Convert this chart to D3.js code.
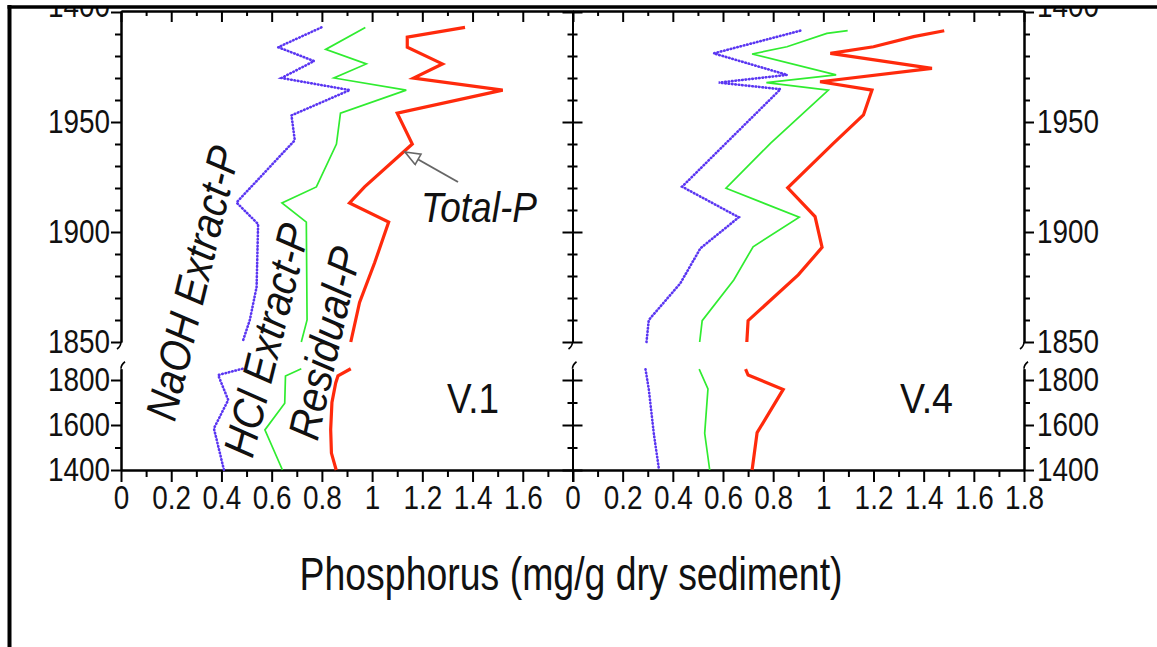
<!DOCTYPE html>
<html><head><meta charset="utf-8">
<script src="https://cdn.jsdelivr.net/npm/d3@7"></script>
<style>
body{margin:0;background:#fff;}
svg{display:block;}
text{font-family:"Liberation Sans Narrow","Arial Narrow","Liberation Sans",Arial,sans-serif;fill:#111;}
</style></head><body>
<svg id="c" width="1157" height="647"></svg>
<script>
// ---------- DATA ----------
const xMajorTicks = [0,0.2,0.4,0.6,0.8,1,1.2,1.4,1.6,1.8];
const xMinorTicks = [0.1,0.3,0.5,0.7,0.9,1.1,1.3,1.5,1.7];
const yUpperMajor = [1850,1900,1950,2000];
const yUpperMajorLabels = ["1850","1900","1950","1400"];
const yUpperMinor = [1860,1870,1880,1890,1910,1920,1930,1940,1960,1970,1980,1990];
const yLowerMajor = [1400,1600,1800];
const yLowerMinor = [1500,1700];

// V.1 core
const v1TotalUpYears = [1993,1988.6,1984,1976.4,1970,1964.5,1954,1940,1920.5,1913.2,1904.5,1886,1868,1850];
const v1TotalUpP     = [1.37,1.14,1.14,1.28,1.165,1.52,1.10,1.16,0.97,0.91,1.066,1.01,0.95,0.915];
const v1TotalLowYears = [1850,1818,1787,1700,1580,1475,1400];
const v1TotalLowP     = [0.915,0.864,0.855,0.84,0.835,0.838,0.857];
const v1HClUpYears = [1993,1983,1976.4,1970,1964.5,1954,1940,1920.5,1913.2,1904.5,1860,1850];
const v1HClUpP     = [0.973,0.815,0.977,0.848,1.136,0.874,0.858,0.778,0.641,0.738,0.741,0.718];
const v1HClLowYears = [1850,1818,1697,1578,1400];
const v1HClLowP     = [0.718,0.655,0.652,0.573,0.643];
const v1NaOHUpYears = [1993,1984,1977.7,1970,1964.5,1953,1941.7,1913.4,1903.6,1875,1860,1850];
const v1NaOHUpP     = [0.798,0.626,0.769,0.639,0.911,0.679,0.692,0.46,0.546,0.54,0.513,0.484];
const v1NaOHLowYears = [1850,1822,1711,1585,1400];
const v1NaOHLowP     = [0.484,0.387,0.427,0.37,0.41];

// V.4 core
const v4TotalUpYears = [1991.5,1988.8,1984.2,1981.2,1974.4,1968.3,1964.5,1953.2,1940.3,1920.1,1907,1893,1880.5,1859.7,1850];
const v4TotalUpP     = [1.482,1.36,1.2,1.028,1.433,0.987,1.194,1.16,1.04,0.858,0.967,0.995,0.9,0.70,0.695];
const v4TotalLowYears = [1848,1822,1758,1566,1400];
const v4TotalLowP     = [0.69,0.70,0.84,0.736,0.716];
const v4HClUpYears = [1991.5,1990.3,1984.2,1980.9,1971.4,1967.9,1964.5,1940.3,1919.9,1906.7,1893.3,1878.2,1859.7,1850];
const v4HClUpP     = [1.097,1.014,0.855,0.716,1.051,0.773,1.02,0.789,0.612,0.904,0.72,0.643,0.517,0.507];
const v4HClLowYears = [1848,1760,1563,1400];
const v4HClLowP     = [0.505,0.54,0.527,0.547];
const v4NaOHUpYears = [1991.5,1981.2,1971.4,1967.9,1964.9,1920.6,1906.7,1892.6,1876.7,1860,1850];
const v4NaOHUpP     = [0.908,0.563,0.856,0.583,0.829,0.437,0.663,0.51,0.43,0.304,0.295];
const v4NaOHLowYears = [1848,1760,1563,1400];
const v4NaOHLowP     = [0.291,0.304,0.324,0.345];

// ---------- LAYOUT ----------
const svg = d3.select('#c');
const defs = svg.append('defs');
defs.append('clipPath').attr('id','clipAll').append('rect')
  .attr('x',10).attr('y',8).attr('width',1157).attr('height',647);
defs.append('marker').attr('id','arrowHead').attr('markerUnits','userSpaceOnUse')
  .attr('markerWidth',20).attr('markerHeight',16).attr('refX',17).attr('refY',7)
  .attr('orient','auto')
  .append('path').attr('d','M2,1 L17,7 L2,13 Z')
  .attr('fill','#fff').attr('stroke','#666').attr('stroke-width',1.6);

const root = svg.append('g').attr('clip-path','url(#clipAll)');

const xL = d3.scaleLinear([0,1.8],[121,573]);
const xR = d3.scaleLinear([0,1.8],[572.5,1024]);
const yU = d3.scaleLinear([1850,2000],[342,12]);
const yD = d3.scaleLinear([1400,1850],[470,368.75]);
const fmt = d3.format('~g');
const FS = 34;

function styleAxis(g, showDomain=true){
  g.attr('font-size',null).attr('font-family',null);
  g.select('.domain').attr('stroke','#000').attr('stroke-width',2).attr('display',showDomain?null:'none');
  g.selectAll('.tick line').attr('stroke','#000').attr('stroke-width',2);
  g.selectAll('.tick text').style('font-size',FS+'px').attr('fill','#111');
}

// bottom & top axes
[[xL,d=> d===1.8 ? '' : fmt(d)],[xR,d=>fmt(d)]].forEach(([x,f])=>{
  root.append('g').attr('transform','translate(0,470)')
    .call(d3.axisBottom(x).tickValues(xMinorTicks).tickSize(7).tickSizeOuter(0).tickFormat(''))
    .call(g=>styleAxis(g));
  root.append('g').attr('transform','translate(0,470)')
    .call(d3.axisBottom(x).tickValues(xMajorTicks).tickSize(12).tickSizeOuter(0).tickPadding(3).tickFormat(f))
    .call(g=>styleAxis(g));
  root.append('g').attr('transform','translate(0,11)')
    .call(d3.axisBottom(x).tickValues(xMinorTicks).tickSize(5).tickSizeOuter(0).tickFormat(''))
    .call(g=>styleAxis(g));
  root.append('g').attr('transform','translate(0,11)')
    .call(d3.axisBottom(x).tickValues(xMajorTicks).tickSize(11).tickSizeOuter(0).tickFormat(''))
    .call(g=>styleAxis(g));
});

// vertical axes: left (outer ticks), middle (crossing), right (outer ticks)
function vAxis(xpos, kind){
  [[yU,yUpperMajor,yUpperMinor,yUpperMajorLabels],[yD,yLowerMajor,yLowerMinor,yLowerMajor.map(String)]].forEach(([y,maj,min,labs])=>{
    const mk = kind==='left' ? d3.axisLeft : d3.axisRight;
    const showLab = kind!=='mid';
    const gMin = root.append('g').attr('transform',`translate(${xpos},0)`)
      .call(mk(y).tickValues(min).tickSize(6).tickSizeOuter(0).tickFormat(''))
      .call(g=>styleAxis(g));
    const gMaj = root.append('g').attr('transform',`translate(${xpos},0)`)
      .call(mk(y).tickValues(maj).tickSize(10).tickSizeOuter(0).tickPadding(kind==='left'?1:3)
        .tickFormat(showLab ? ((d,i)=>labs[i]) : ''))
      .call(g=>styleAxis(g));
    if(kind==='mid'){
      gMin.selectAll('.tick line').attr('x1',-5).attr('x2',5);
      gMaj.selectAll('.tick line').attr('x1',-10).attr('x2',10);
    }
    // the top label sits partly above the frame, as in the original
    gMaj.selectAll('.tick').filter(d=>d===2000).select('text').attr('y',-6);
  });
  // break hooks
  root.append('path').attr('d',`M${xpos},${yU(1850)} q0,4 -4,7`).attr('fill','none').attr('stroke','#000').attr('stroke-width',1.6);
  root.append('path').attr('d',`M${xpos},${yD(1850)} q0,-4 4,-7`).attr('fill','none').attr('stroke','#000').attr('stroke-width',1.6);
}
vAxis(121,'left');
vAxis(572.5,'mid');
vAxis(1024,'right');

// ---------- CURVES ----------
const styles = {
  total:{stroke:'#ff2a0c',width:3.2,dash:null},
  hcl:{stroke:'#30ec30',width:1.7,dash:null},
  naoh:{stroke:'#5a36f2',width:2.6,dash:'0.6 2.8'}
};
function curve(x,y,years,vals,st){
  const pts = years.map((yr,i)=>[vals[i],yr]);
  const line = d3.line().x(d=>x(d[0])).y(d=>y(d[1]));
  root.append('path').attr('d',line(pts)).attr('fill','none')
    .attr('stroke',st.stroke).attr('stroke-width',st.width)
    .attr('stroke-dasharray',st.dash).attr('stroke-linecap',st.dash?'round':'butt')
    .attr('stroke-linejoin','miter');
}
curve(xL,yU,v1NaOHUpYears,v1NaOHUpP,styles.naoh);
curve(xL,yD,v1NaOHLowYears,v1NaOHLowP,styles.naoh);
curve(xL,yU,v1HClUpYears,v1HClUpP,styles.hcl);
curve(xL,yD,v1HClLowYears,v1HClLowP,styles.hcl);
curve(xL,yU,v1TotalUpYears,v1TotalUpP,styles.total);
curve(xL,yD,v1TotalLowYears,v1TotalLowP,styles.total);
curve(xR,yU,v4NaOHUpYears,v4NaOHUpP,styles.naoh);
curve(xR,yD,v4NaOHLowYears,v4NaOHLowP,styles.naoh);
curve(xR,yU,v4HClUpYears,v4HClUpP,styles.hcl);
curve(xR,yD,v4HClLowYears,v4HClLowP,styles.hcl);
curve(xR,yU,v4TotalUpYears,v4TotalUpP,styles.total);
curve(xR,yD,v4TotalLowYears,v4TotalLowP,styles.total);

// ---------- LABELS ----------
function rotLabel(txt,cx,cy,ang,len){
  root.append('text').attr('transform',`translate(${cx},${cy}) rotate(${-ang})`)
    .attr('text-anchor','middle').attr('dy','0.36em')
    .style('font-size','44px').style('font-style','italic')
    .attr('textLength',len).attr('lengthAdjust','spacingAndGlyphs').text(txt);
}
rotLabel('NaOH Extract-P',192,283,76.5,280);
rotLabel('HCl Extract-P',266,340,76,238);
rotLabel('Residual-P',324,343,77,196);

root.append('line').attr('x1',458).attr('y1',182).attr('x2',405).attr('y2',152)
  .attr('stroke','#666').attr('stroke-width',2).attr('marker-end','url(#arrowHead)');
root.append('text').attr('x',421).attr('y',222).style('font-size','42px').style('font-style','italic')
  .attr('textLength',116).attr('lengthAdjust','spacingAndGlyphs').text('Total-P');

root.append('text').attr('x',447).attr('y',413).style('font-size','43px')
  .attr('textLength',52).attr('lengthAdjust','spacingAndGlyphs').text('V.1');
root.append('text').attr('x',900).attr('y',413).style('font-size','43px')
  .attr('textLength',53).attr('lengthAdjust','spacingAndGlyphs').text('V.4');

root.append('text').attr('x',571).attr('y',590).attr('text-anchor','middle').style('font-size','46px')
  .attr('textLength',543).attr('lengthAdjust','spacingAndGlyphs').text('Phosphorus (mg/g dry sediment)');

// border
svg.append('line').attr('x1',9.5).attr('y1',5).attr('x2',9.5).attr('y2',647).attr('stroke','#000').attr('stroke-width',4);
svg.append('line').attr('x1',7.5).attr('y1',7).attr('x2',1157).attr('y2',7).attr('stroke','#000').attr('stroke-width',3.5);

// narrow-font fallback: compress tick labels if a narrow face is unavailable
(function(){
  const t = svg.append('text').style('font-size','100px').text('1950 Phosphorus');
  const w1 = t.node().getComputedTextLength();
  t.style('font-family','"Liberation Sans"');
  const w2 = t.node().getComputedTextLength();
  t.remove();
  if (w1 > w2*0.9){
    root.selectAll('text').each(function(){
      const el = d3.select(this);
      if (el.attr('textLength')) return;
      const w = this.getComputedTextLength();
      if (w>0) el.attr('textLength', w*0.82).attr('lengthAdjust','spacingAndGlyphs');
    });
  }
})();
</script>
</body></html>
